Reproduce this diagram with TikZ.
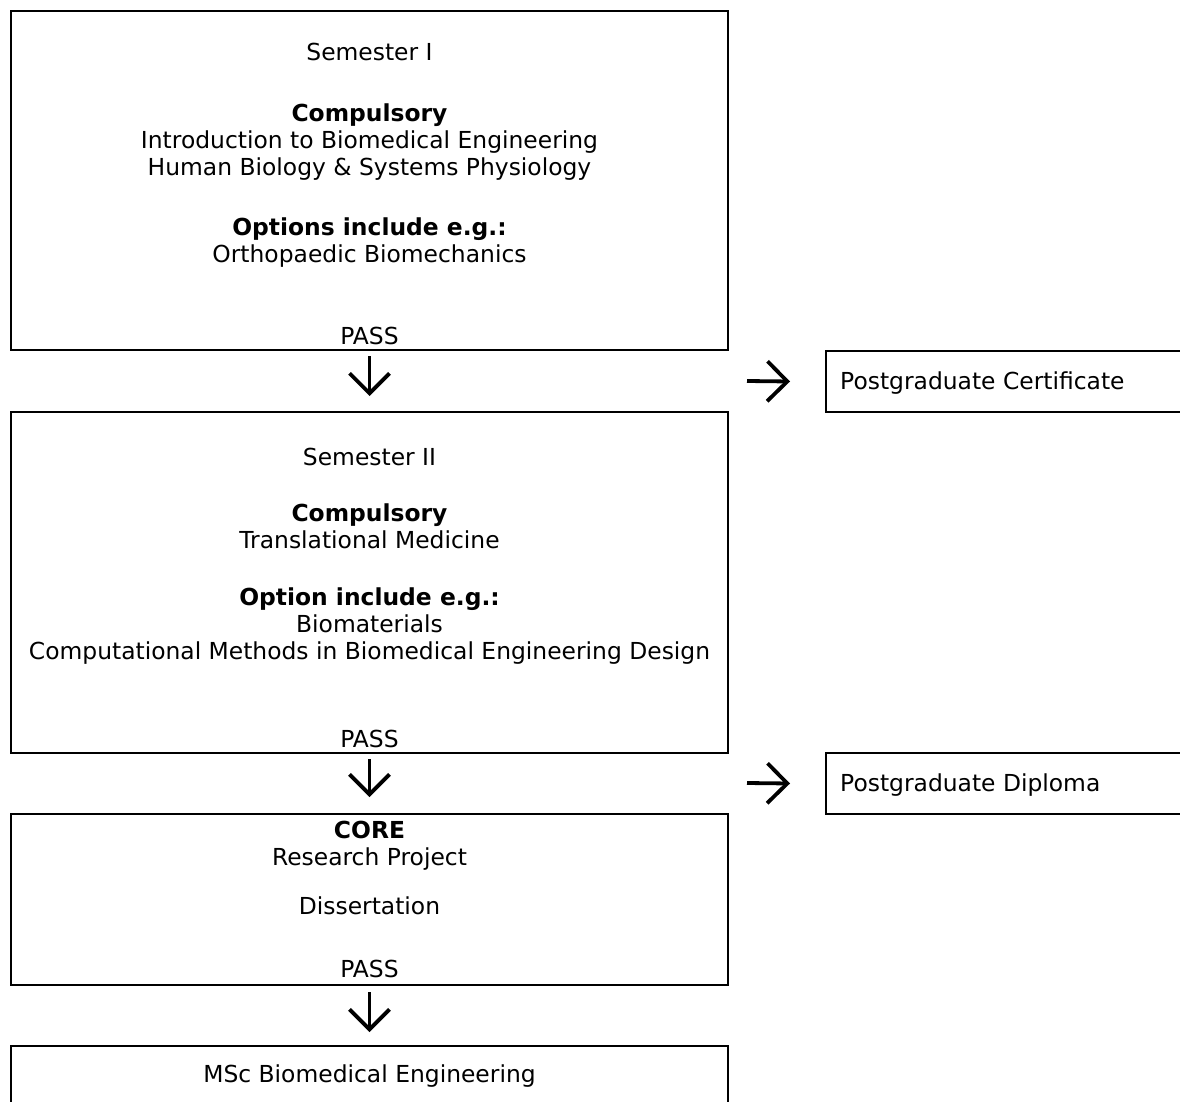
\documentclass[tikz,border=0pt]{standalone}
\usepackage{fontspec}
\setmainfont{DejaVu Sans}
\usetikzlibrary{arrows.meta,calc}
\tikzstyle{stage box} = [draw,line width=2pt,anchor=north west,inner sep=0,minimum width=717pt]
\tikzstyle{award box} = [draw,line width=2pt,anchor=north west,inner sep=0,minimum width=420pt,minimum height=61pt]
\tikzstyle{box text}  = [align=center,inner sep=0,font=\fontsize{23.4}{27}\selectfont]
\tikzstyle{pass arrow} = [line width=3.8pt,-{Straight Barb[length=20pt,width=40pt]}]

\begin{document}
\begin{tikzpicture}[x=1pt,y=-1pt]
    \useasboundingbox (0,0) rectangle (1180,1102);

    % Semester I
    \node(sem1)[stage box, minimum height=339pt] at (10,10){};
    \node(sem1 text)[box text, anchor=north] at ($(sem1.north)+(0,33)$)
        {Semester I\\[34pt]
         \textbf{Compulsory}\\
         Introduction to Biomedical Engineering\\
         Human Biology \& Systems Physiology\\[33pt]
         \textbf{Options include e.g.:}\\
         Orthopaedic Biomechanics};
    \node(pass1)[box text, anchor=base] at ($(sem1.south)+(0,-7)$) {PASS};

    % Semester II
    \node(sem2)[stage box, minimum height=341pt] at (10,411){};
    \node(sem2 text)[box text, anchor=north] at ($(sem2.north)+(0,37)$)
        {Semester II\\[29pt]
         \textbf{Compulsory}\\
         Translational Medicine\\[30pt]
         \textbf{Option include e.g.:}\\
         Biomaterials\\
         Computational Methods in Biomedical Engineering Design};
    \node(pass2)[box text, anchor=base] at ($(sem2.south)+(0,-7)$) {PASS};

    % Research project
    \node(core)[stage box, minimum height=171pt] at (10,813){};
    \node(core text)[box text, anchor=north] at ($(core.north)+(0,8)$)
        {\textbf{CORE}\\
         Research Project\\[22pt]
         Dissertation};
    \node(pass3)[box text, anchor=base] at ($(core.south)+(0,-9)$) {PASS};

    % Final award
    \node(msc)[stage box, minimum height=80pt] at (10,1045){};
    \node(msc text)[box text, anchor=north] at ($(msc.north)+(0,20)$) {MSc Biomedical Engineering};

    % Exit awards
    \node(cert)[award box] at (825,350){};
    \node(cert text)[box text, anchor=base west] at ($(cert.west)+(15,8)$) {Postgraduate Certificate};
    \node(dipl)[award box] at (825,752){};
    \node(dipl text)[box text, anchor=base west] at ($(dipl.west)+(15,8)$) {Postgraduate Diploma};

    % Progression arrows
    \draw[pass arrow] ($(sem1.south)+(0,5)$) -- ($(sem2.north)+(0,-15)$);
    \draw[pass arrow] ($(sem2.south)+(0,5)$) -- ($(core.north)+(0,-16)$);
    \draw[pass arrow] ($(core.south)+(0,6)$) -- ($(msc.north)+(0,-13)$);

    % Exit arrows
    \coordinate(cert in) at (747,381);
    \coordinate(dipl in) at (747,783);
    \draw[pass arrow] (cert in) -- ($(cert.west)+(-35,0)$);
    \draw[pass arrow] (dipl in) -- ($(dipl.west)+(-35,0)$);

\end{tikzpicture}
\end{document}
